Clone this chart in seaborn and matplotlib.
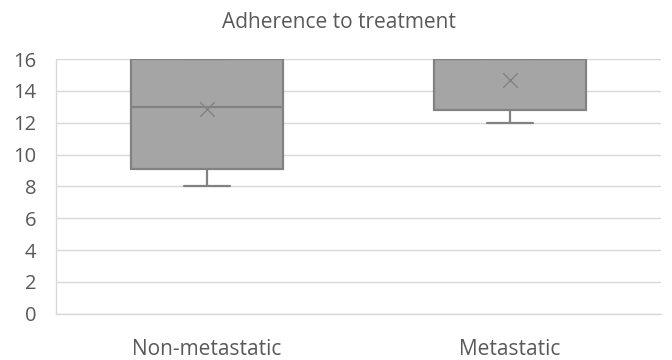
import matplotlib
matplotlib.use("Agg")
import matplotlib.pyplot as plt
import seaborn as sns
import pandas as pd

# Five-number summaries (min, Q1, median, Q3, max)
categories = ["Non-metastatic", "Metastatic"]
non_metastatic = [8.0, 9.12, 13.0, 16.0, 16.0]
metastatic = [12.0, 12.8, 16.0, 16.0, 16.0]
means = [12.86, 14.65]
y_ticks = [0, 2, 4, 6, 8, 10, 12, 14, 16]
title = "Adherence to treatment"

df = pd.DataFrame({
    "group": [categories[0]] * len(non_metastatic) + [categories[1]] * len(metastatic),
    "value": non_metastatic + metastatic,
})

sns.set_theme(style="white")
plt.rcParams["font.family"] = ["Open Sans", "DejaVu Sans"]

text_c = "#595959"
edge_c = "#828282"
fig = plt.figure(figsize=(6.72, 3.6), dpi=100)
ax = fig.add_axes([0.083, 0.1286, 0.901, 0.7075])

ax.yaxis.grid(True, color="#D9D9D9", linewidth=1.0, zorder=0)
ax.set_axisbelow(True)

sns.boxplot(data=df, x="group", y="value", order=categories, ax=ax,
            whis=(0, 100), width=0.5, color="#A5A5A5", saturation=1,
            linecolor=edge_c, linewidth=1.6, showfliers=False,
            capwidths=0.15)

ax.scatter(range(len(categories)), means, marker="x", s=110, color=edge_c,
           linewidths=1.0, zorder=5)

ax.set_ylim(0, 16)
ax.set_xlim(-0.5, 1.5)
ax.set_yticks(y_ticks)
ax.set_xlabel("")
ax.set_ylabel("")
ax.tick_params(axis="y", length=0, pad=14, labelsize=14.5, labelcolor=text_c)
ax.tick_params(axis="x", length=0, pad=18, labelsize=15, labelcolor=text_c)

for s in ["top", "right"]:
    ax.spines[s].set_visible(False)
for s in ["left", "bottom"]:
    ax.spines[s].set_color("#D9D9D9")
    ax.spines[s].set_linewidth(1.0)

fig.text(0.505, 0.938, title, ha="center", va="center", fontsize=15, color=text_c)

fig.savefig("out.png", dpi=100)
